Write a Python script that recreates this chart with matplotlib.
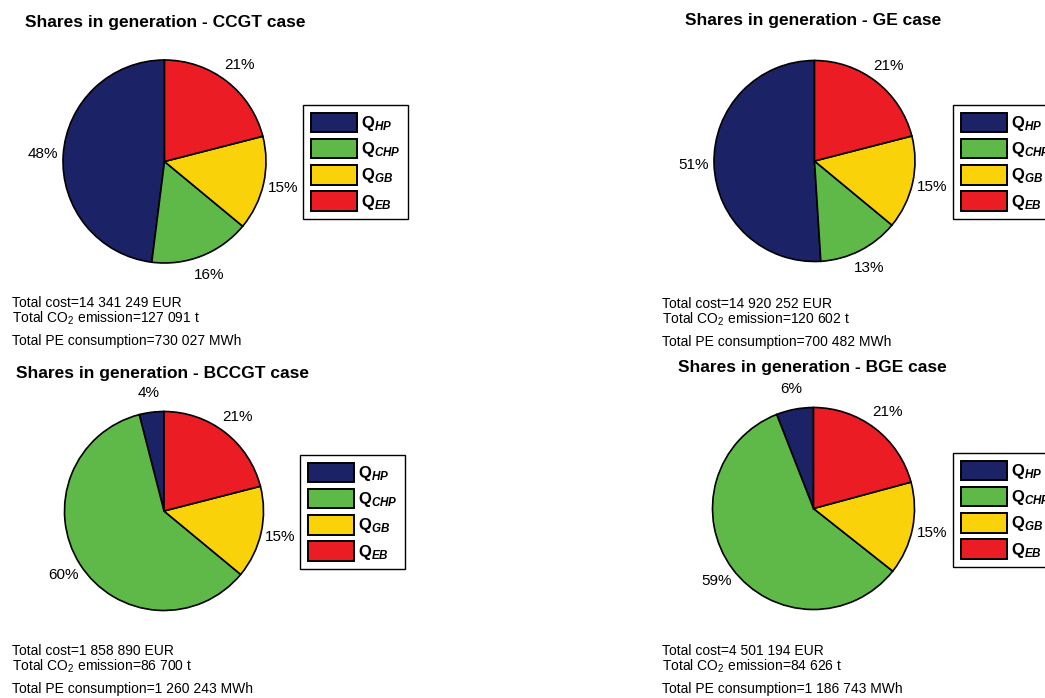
import matplotlib
matplotlib.use('Agg')
import matplotlib.pyplot as plt
from matplotlib.patches import Patch

plt.rcParams['font.family'] = ['Liberation Sans', 'DejaVu Sans']
plt.rcParams['mathtext.fontset'] = 'custom'
plt.rcParams['mathtext.rm'] = 'Liberation Sans'
plt.rcParams['mathtext.it'] = 'Liberation Sans:italic'
plt.rcParams['mathtext.bf'] = 'Liberation Sans:bold'
plt.rcParams['mathtext.bfit'] = 'Liberation Sans:italic:bold'

# data
cases = ['CCGT', 'GE', 'BCCGT', 'BGE']
q_hp = [48, 51, 4, 6]
q_chp = [16, 13, 60, 59]
q_gb = [15, 15, 15, 15]
q_eb = [21, 21, 21, 21]
total_cost = ['14 341 249', '14 920 252', '1 858 890', '4 501 194']
total_co2 = ['127 091', '120 602', '86 700', '84 626']
total_pe = ['730 027', '700 482', '1 260 243', '1 186 743']

legend_labels = [r'$\mathbf{Q}_{\mathbfit{HP}}$', r'$\mathbf{Q}_{\mathbfit{CHP}}$',
                 r'$\mathbf{Q}_{\mathbfit{GB}}$', r'$\mathbf{Q}_{\mathbfit{EB}}$']
colors = ['#1b2366', '#5eb948', '#fad20a', '#ec1c24']

W, H = 1045, 698
# layout in pixels: pie centre, radius, title pos, legend corner, text corner
layout = [
    dict(c=(164.5, 161.5), r=101.5, title=(165, 22), leg=(303, 105), txt=(12, 303)),
    dict(c=(814.5, 161), r=100.5, title=(813, 21), leg=(953, 105), txt=(662, 304)),
    dict(c=(164, 511), r=99.5, title=(163, 373), leg=(300, 455), txt=(12, 651)),
    dict(c=(813.5, 508.5), r=101, title=(812, 368), leg=(953, 453), txt=(662, 651)),
]

fig = plt.figure(figsize=(W / 100, H / 100), dpi=100)


def fx(x):
    return x / W


def fy(y):
    return 1 - y / H


for i, case in enumerate(cases):
    lay = layout[i]
    cx, cy = lay['c']
    r = lay['r']
    ax = fig.add_axes([fx(cx - r), fy(cy + r), 2 * r / W, 2 * r / H])
    vals = [q_hp[i], q_chp[i], q_gb[i], q_eb[i]]
    pcts = ['%d%%' % v for v in vals]
    wedges, texts = ax.pie(vals, colors=colors, labels=pcts, startangle=90,
                           counterclock=True, labeldistance=1.2,
                           wedgeprops=dict(edgecolor='black', linewidth=1.2))
    for t in texts:
        t.set_ha('center')
        t.set_va('center')
        t.set_fontsize(11)
    ax.set_xlim(-1, 1)
    ax.set_ylim(-1, 1)
    ax.axis('off')

    tx, ty = lay['title']
    fig.text(fx(tx), fy(ty), 'Shares in generation - %s case' % case,
             ha='center', va='center', fontsize=12.5, fontweight='bold')

    # legend sticks out of the right edge for the right column, as in the original
    handles = [Patch(facecolor=c, edgecolor='black', linewidth=1.4) for c in colors]
    lx, ly = lay['leg']
    leg = fig.legend(handles, legend_labels, loc='upper left',
                     bbox_to_anchor=(fx(lx), fy(ly)), bbox_transform=fig.transFigure,
                     borderaxespad=0, fontsize=12, handlelength=2.76, handleheight=1.42,
                     labelspacing=0.36, handletextpad=0.25, borderpad=0.45,
                     fancybox=False, framealpha=1, edgecolor='black')
    leg.get_frame().set_linewidth(1.0)

    x0, y0 = lay['txt']
    fig.text(fx(x0), fy(y0), 'Total cost=%s EUR' % total_cost[i], fontsize=10, va='center')
    fig.text(fx(x0), fy(y0 + 15), 'Total CO$_2$ emission=%s t' % total_co2[i], fontsize=10, va='center')
    fig.text(fx(x0), fy(y0 + 38), 'Total PE consumption=%s MWh' % total_pe[i], fontsize=10, va='center')

fig.savefig('out.png', dpi=100)
